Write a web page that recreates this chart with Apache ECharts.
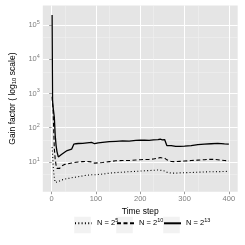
<!DOCTYPE html>
<html><head><meta charset="utf-8">
<script src="https://cdn.jsdelivr.net/npm/echarts@6/dist/echarts.min.js"></script>
<style>html,body{margin:0;padding:0;background:#fff}#c{width:245px;height:245px}</style>
</head><body><div id="c"></div>
<script>
const timeSteps = [1,2,3,4,5,6,8,10,12,15,18,22,26,30,35,40,45,48,50,55,60,70,80,90,97,100,105,115,130,145,160,175,190,200,210,220,230,240,245,250,255,258,260,263,270,280,290,300,315,330,345,360,375,390,400];
const gainN5 = [27,18,10,6,4.5,3.5,2.5,2.35,2.5,2.65,2.8,2.95,3.05,3.15,3.25,3.35,3.45,3.5,3.55,3.6,3.7,3.9,4.1,4.2,4.2,4.2,4.3,4.4,4.7,4.9,5.0,5.2,5.3,5.4,5.5,5.6,5.7,5.8,5.7,5.6,5.4,5.2,5.0,4.9,4.7,4.7,4.8,4.85,4.9,5.0,5.1,5.15,5.2,5.25,5.3];
const gainN10 = [800,500,400,150,60,25,12,8,6.5,6,6.5,7.5,8,8.5,8.7,9,9.3,9.5,9.5,9.8,10,10.2,10.3,10,9.2,9,9.4,9.6,10.2,10.8,11,11,11.4,11.6,11.8,11.8,12.2,12.8,13.4,13,13,12.5,11.5,11,10.3,10.2,10.4,10.6,11,11.3,11.6,12,11.6,11,10.7];
const gainN13 = [195000,650,420,400,380,200,60,30,20,14,14.5,16.5,18,19.5,21.5,22.5,23.5,24,33,34,34.5,35,36,37,34,33.5,36,37.5,39,40,41,40.5,42.5,43,43,42.5,44,45,46,44,45,40,30,33,30,28.5,28.5,29,30,32,33,34,35,33.5,33];
const xTickValues = [0,100,200,300,400];
const yTickExponents = [1,2,3,4,5];
const legendExponents = [5,10,13];
const seriesNames = legendExponents.map(e => 'N = 2^' + e);

const FONT = '"Liberation Sans", Arial, sans-serif';
const yLogMin = Math.pow(10, 0.13), yLogMax = Math.pow(10, 5.57);
const styles = [
  {type:[1,2.3], width:1.1},
  {type:[4,2.5], width:1.1},
  {type:'solid', width:1.3}
];
const seriesValues = [gainN5, gainN10, gainN13];
const keyLeft = [74, 116, 163];

const chart = echarts.init(document.getElementById('c'), null, {renderer:'canvas'});
chart.setOption({
  animation:false,
  textStyle:{fontFamily:FONT},
  grid:{left:28.5, right:7.3, top:5.5, bottom:53.3, show:true, backgroundColor:'#e5e5e5', borderWidth:0, containLabel:false},
  xAxis:{type:'value', min:-20, max:420, interval:100,
    axisLine:{show:false},
    axisTick:{show:true, length:2.5, lineStyle:{color:'#7f7f7f', width:0.8}, customValues:xTickValues},
    axisLabel:{color:'#7f7f7f', fontSize:7.5, margin:3, fontFamily:FONT, customValues:xTickValues},
    splitLine:{show:true, lineStyle:{color:'#ffffff', width:1}},
    minorTick:{show:false, splitNumber:2},
    minorSplitLine:{show:true, lineStyle:{color:'#f2f2f2', width:0.5}},
    name:'Time step', nameLocation:'middle', nameGap:10,
    nameTextStyle:{color:'#000', fontSize:8.5, fontFamily:FONT}
  },
  yAxis:[{type:'value', min:0.13, max:5.57, interval:1,
    axisLine:{show:false},
    axisTick:{show:true, length:2.5, lineStyle:{color:'#7f7f7f', width:0.8}, customValues:yTickExponents},
    axisLabel:{color:'#7f7f7f', fontSize:7.5, margin:3, fontFamily:FONT, customValues:yTickExponents,
      formatter:v => '{b|10}{s|' + Math.round(v) + '}',
      rich:{b:{fontSize:7.5, color:'#7f7f7f', fontFamily:FONT}, s:{fontSize:5.5, color:'#7f7f7f', fontFamily:FONT, padding:[0,0,5,0]}}},
    splitLine:{show:true, lineStyle:{color:'#ffffff', width:1}},
    minorTick:{show:false, splitNumber:2},
    minorSplitLine:{show:true, lineStyle:{color:'#f2f2f2', width:0.5}},
    name:'Gain factor ( log{sub|10} scale)', nameLocation:'middle', nameGap:15.5,
    nameTextStyle:{color:'#000', fontSize:8.5, fontFamily:FONT,
      rich:{sub:{fontSize:6, color:'#000', fontFamily:FONT, padding:[4,0,0,0]}}}
  },{type:'log', logBase:10, min:yLogMin, max:yLogMax, show:false, splitLine:{show:false}}],
  legend: seriesNames.map((n,i) => ({
    data:[n], left:keyLeft[i], top:216.5, padding:0, itemWidth:17, itemHeight:17, itemGap:0,
    selectedMode:false,
    itemStyle:{color:'rgba(0,0,0,0)', borderWidth:0, opacity:0},
    textStyle:{fontSize:7.5, color:'#000', fontFamily:FONT,
      rich:{n:{fontSize:7.5, color:'#000', fontFamily:FONT}, s:{fontSize:5.5, color:'#000', fontFamily:FONT, padding:[0,0,5,0]}}},
    formatter: name => '{n|N = 2}{s|' + legendExponents[seriesNames.indexOf(name)] + '}'
  })),
  graphic: keyLeft.map(x => ({type:'rect', shape:{x:x, y:216.5, width:17, height:17}, style:{fill:'#f2f2f2', stroke:'#ffffff', lineWidth:0.5}, z:0})),
  series: seriesValues.map((vals,i) => ({
    name:seriesNames[i], type:'line', xAxisIndex:0, yAxisIndex:1, symbol:'none', z:3,
    data: timeSteps.map((t,j) => [t, vals[j]]),
    lineStyle:{color:'#000', type:styles[i].type, width:styles[i].width},
    itemStyle:{color:'#000'}
  }))
});
</script></body></html>
